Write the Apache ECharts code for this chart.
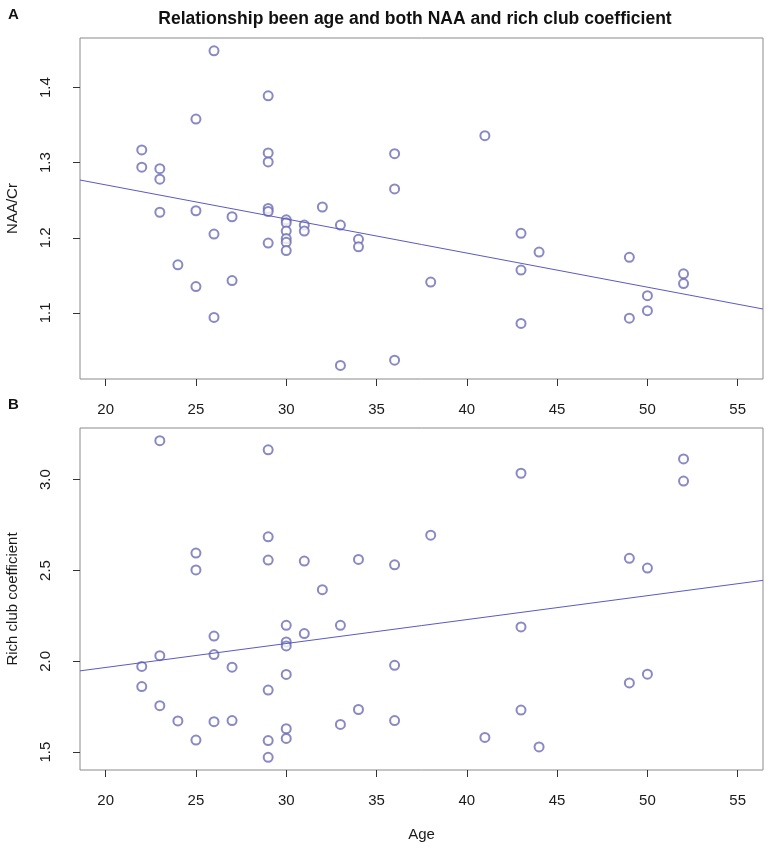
<!DOCTYPE html>
<html>
<head>
<meta charset="utf-8">
<script src="https://cdn.jsdelivr.net/npm/echarts@6/dist/echarts.min.js"></script>
<style>
html,body{margin:0;padding:0;background:#fff;}
#chart{width:767px;height:857px;}
</style>
</head>
<body>
<div id="chart"></div>
<script>
// ---- data ----
const ages = [22,22,23,23,23,24,25,25,25,26,26,26,27,27,29,29,29,29,29,29,30,30,30,30,30,30,31,31,32,33,33,34,34,36,36,36,38,41,43,43,43,44,49,49,50,50,52,52];
const naaCr = [1.317,1.294, 1.292,1.278,1.234, 1.164, 1.358,1.236,1.135, 1.449,1.205,1.094, 1.228,1.143,
  1.389,1.313,1.301,1.239,1.235,1.193, 1.224,1.220,1.209,1.199,1.194,1.183, 1.217,1.209, 1.241, 1.217,1.030,
  1.198,1.188, 1.312,1.265,1.037, 1.141, 1.336, 1.206,1.157,1.086, 1.181, 1.174,1.093, 1.123,1.103, 1.152,1.139];
const richClub = [1.972,1.861, 3.214,2.031,1.756, 1.672, 2.596,2.503,1.567, 2.139,2.037,1.668, 1.968,1.674,
  3.164,2.685,2.557,1.842,1.564,1.472, 2.198,2.107,2.085,1.928,1.629,1.576, 2.552,2.153, 2.394, 2.198,1.653,
  2.561,1.735, 2.531,1.978,1.674, 2.694, 1.581, 3.035,2.189,1.732, 1.529, 2.567,1.881, 2.513,1.929, 3.114,2.992];
const ageTicks = [20,25,30,35,40,45,50,55];
const naaTicks = [1.1,1.2,1.3,1.4];
const richTicks = [1.5,2.0,2.5,3.0];
const titleText = 'Relationship been age and both NAA and rich club coefficient';

// ---- helpers ----
function fit(xs, ys){
  const n = xs.length;
  const mx = xs.reduce((a,b)=>a+b,0)/n, my = ys.reduce((a,b)=>a+b,0)/n;
  let sxy=0, sxx=0;
  for(let i=0;i<n;i++){ sxy += (xs[i]-mx)*(ys[i]-my); sxx += (xs[i]-mx)*(xs[i]-mx); }
  const b = sxy/sxx; return {a: my - b*mx, b: b};
}
const X_MIN = 18.58, X_MAX = 56.4;
function lineData(xs, ys){
  const f = fit(xs, ys);
  return [[X_MIN, f.a + f.b*X_MIN],[X_MAX, f.a + f.b*X_MAX]];
}
const ptColor = '#6c6cb4';
const lnColor = '#5a5ac4';
const font = 'Liberation Sans, Arial, sans-serif';

function xAxisCfg(idx, withName){
  return {
    type:'value', gridIndex: idx, min: X_MIN, max: X_MAX,
    splitLine:{show:false},
    axisLine:{show:false},
    axisTick:{show:true, inside:false, length:7, customValues: ageTicks, lineStyle:{color:'#333'}},
    axisLabel:{customValues: ageTicks, margin:23, color:'#1a1a1a', fontSize:15, fontFamily:font},
    name: withName ? 'Age' : '', nameLocation:'middle', nameGap:57,
    nameTextStyle:{color:'#1a1a1a', fontSize:15, fontFamily:font}
  };
}
function yAxisCfg(idx, min, max, ticks, name){
  return {
    type:'value', gridIndex: idx, min:min, max:max,
    splitLine:{show:false},
    axisLine:{show:false},
    axisTick:{show:true, length:7, customValues: ticks, lineStyle:{color:'#333'}},
    axisLabel:{customValues: ticks, rotate:90, margin:27, color:'#1a1a1a', fontSize:15, fontFamily:font,
      formatter: v => v.toFixed(1)},
    name: name, nameLocation:'middle', nameRotate:90, nameGap:60,
    nameTextStyle:{color:'#1a1a1a', fontSize:15, fontFamily:font}
  };
}

const chart = echarts.init(document.getElementById('chart'), null, {renderer:'canvas'});
chart.setOption({
  animation:false,
  backgroundColor:'#fff',
  title:{text:titleText, left:410, top:5, textAlign:'center',
    textStyle:{fontSize:17.5, fontWeight:'bold', color:'#111', fontFamily:font}},
  graphic:[
    {type:'text', left:8, top:7, style:{text:'A', font:'bold 15px Liberation Sans, Arial', fill:'#111'}},
    {type:'text', left:8, top:397, style:{text:'B', font:'bold 15px Liberation Sans, Arial', fill:'#111'}}
  ],
  grid:[
    {left:80, right:4, top:38, height:341, show:true, borderColor:'#8a8a8a', borderWidth:1,
      backgroundColor:'transparent', containLabel:false, outerBoundsMode:'none'},
    {left:80, right:4, top:428, height:342, show:true, borderColor:'#8a8a8a', borderWidth:1,
      backgroundColor:'transparent', containLabel:false, outerBoundsMode:'none'}
  ],
  xAxis:[xAxisCfg(0,false), xAxisCfg(1,true)],
  yAxis:[yAxisCfg(0,1.012,1.466,naaTicks,'NAA/Cr'), yAxisCfg(1,1.402,3.284,richTicks,'Rich club coefficient')],
  series:[
    {type:'scatter', xAxisIndex:0, yAxisIndex:0, symbol:'emptyCircle', symbolSize:9,
      itemStyle:{color:ptColor, borderColor:ptColor, borderWidth:1.2},
      data: ages.map((a,i)=>[a, naaCr[i]])},
    {type:'line', xAxisIndex:0, yAxisIndex:0, symbol:'none', lineStyle:{color:lnColor, width:1},
      data: lineData(ages, naaCr)},
    {type:'scatter', xAxisIndex:1, yAxisIndex:1, symbol:'emptyCircle', symbolSize:9,
      itemStyle:{color:ptColor, borderColor:ptColor, borderWidth:1.2},
      data: ages.map((a,i)=>[a, richClub[i]])},
    {type:'line', xAxisIndex:1, yAxisIndex:1, symbol:'none', lineStyle:{color:lnColor, width:1},
      data: lineData(ages, richClub)}
  ]
});
</script>
</body>
</html>
